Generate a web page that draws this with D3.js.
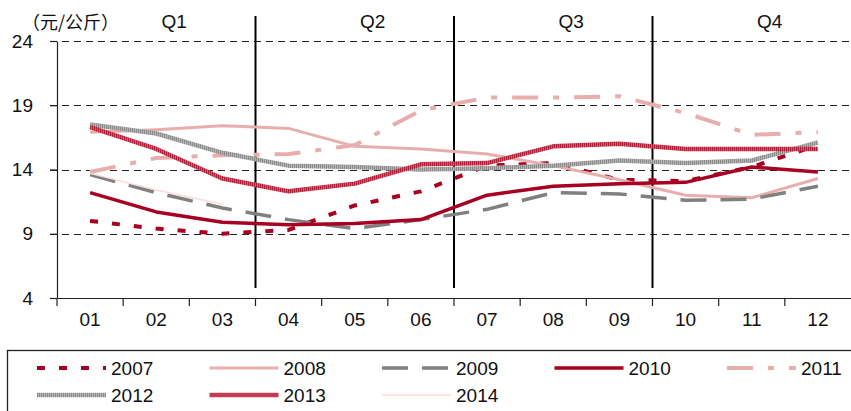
<!DOCTYPE html>
<html lang="zh">
<head>
<meta charset="UTF-8">
<title>价格月度走势</title>
<script src="https://cdn.jsdelivr.net/npm/d3@7"></script>
<style>
    body { margin: 0; background: #fff; }
    svg text { font-family: "Liberation Sans", "DejaVu Sans", sans-serif; fill: #111; }
    .grid line { stroke: #222; stroke-width: 1; stroke-dasharray: 7,5; shape-rendering: crispEdges; }
    .axis path, .axis line { stroke: #222; stroke-width: 1.2; }
    .series { fill: none; stroke-linejoin: round; }
</style>
</head>
<body>
<div id="chart"></div>
<script>
    // 数据
    var months = ["01", "02", "03", "04", "05", "06", "07", "08", "09", "10", "11", "12"];
    var quarters = ["Q1", "Q2", "Q3", "Q4"];
    var yTicks = [4, 9, 14, 19, 24];

    var v2007 = [10.0, 9.4, 9.0, 9.3, 11.2, 12.3, 14.3, 14.5, 13.2, 13.1, 14.2, 15.9];
    var v2008 = [16.9, 17.1, 17.4, 17.2, 15.8, 15.6, 15.2, 14.3, 13.2, 12.0, 11.8, 13.3];
    var v2009 = [13.6, 12.2, 11.0, 10.1, 9.4, 10.1, 10.9, 12.2, 12.1, 11.6, 11.7, 12.7];
    var v2010 = [12.2, 10.7, 9.9, 9.7, 9.8, 10.1, 12.0, 12.7, 12.9, 13.0, 14.2, 13.8];
    var v2011 = [13.8, 14.9, 15.1, 15.2, 15.9, 18.6, 19.6, 19.6, 19.7, 18.4, 16.7, 16.9];
    var v2012 = [17.5, 16.8, 15.3, 14.3, 14.2, 14.0, 14.1, 14.3, 14.7, 14.5, 14.7, 16.1];
    var v2013 = [17.3, 15.6, 13.3, 12.3, 12.9, 14.4, 14.5, 15.8, 16.0, 15.6, 15.6, 15.6];
    var v2014 = [13.7, 12.4, 11.3];

    var series = [
        {name: "2007", values: v2007, color: "#A80020", width: 4, dash: "8,14"},
        {name: "2008", values: v2008, color: "#E8ADAD", width: 3, dash: null},
        {name: "2009", values: v2009, color: "#808080", width: 3.5, dash: "26,14"},
        {name: "2010", values: v2010, color: "#A80020", width: 3.5, dash: null},
        {name: "2011", values: v2011, color: "#E8ADAD", width: 4, dash: "26,15,6,15"},
        {name: "2012", values: v2012, color: "url(#stripeGray)", width: 4.5, dash: null},
        {name: "2013", values: v2013, color: "url(#stripeRed)", width: 4.5, dash: null},
        {name: "2014", values: v2014, color: "#F9DCDC", width: 1.5, dash: null}
    ];

    var width = 851, height = 411;
    var x = d3.scaleBand().domain(months).range([57, 851]);
    var y = d3.scaleLinear().domain([4, 24]).range([298, 41]);

    var svg = d3.select("#chart").append("svg")
        .attr("width", width)
        .attr("height", height);

    // 条纹纹理
    var defs = svg.append("defs");
    function stripe(id, c1, c2) {
        var p = defs.append("pattern")
            .attr("id", id)
            .attr("patternUnits", "userSpaceOnUse")
            .attr("width", 2).attr("height", 2);
        p.append("rect").attr("width", 2).attr("height", 2).attr("fill", c1);
        p.append("rect").attr("width", 1).attr("height", 2).attr("fill", c2);
    }
    stripe("stripeGray", "#B4B4B4", "#8C8C8C");
    stripe("stripeRed", "#D65A6E", "#B01E38");

    // 网格
    svg.append("g").attr("class", "grid")
        .selectAll("line")
        .data(yTicks.filter(function (d) { return d > 4; }))
        .enter().append("line")
        .attr("x1", 50).attr("x2", 851)
        .attr("y1", function (d) { return Math.round(y(d)) + 0.5; })
        .attr("y2", function (d) { return Math.round(y(d)) + 0.5; });

    // y 轴
    var yAxis = svg.append("g").attr("class", "axis")
        .attr("transform", "translate(57,0)")
        .call(d3.axisLeft(y).tickValues(yTicks).tickSize(7).tickSizeOuter(0).tickPadding(17));
    yAxis.selectAll("text").style("font-size", "19px");

    // x 轴
    var xAxis = svg.append("g").attr("class", "axis")
        .attr("transform", "translate(0,298)")
        .call(d3.axisBottom(x).tickSize(0).tickSizeOuter(0).tickPadding(15));
    xAxis.selectAll("text").style("font-size", "19px");
    xAxis.selectAll(".edge")
        .data(months)
        .enter().append("line")
        .attr("class", "edge")
        .attr("x1", function (d) { return x(d); })
        .attr("x2", function (d) { return x(d); })
        .attr("y1", 0).attr("y2", 8);

    // 季度分隔
    svg.append("g").selectAll("line")
        .data(["04", "07", "10"])
        .enter().append("line")
        .attr("x1", function (d) { return x(d); })
        .attr("x2", function (d) { return x(d); })
        .attr("y1", 16).attr("y2", 288)
        .attr("stroke", "#000").attr("stroke-width", 2);

    svg.append("g").selectAll("text")
        .data(quarters)
        .enter().append("text")
        .attr("x", function (d, i) { return x(months[i * 3]) + x.bandwidth() * 1.5 + 18; })
        .attr("y", 28)
        .attr("text-anchor", "middle")
        .style("font-size", "19px")
        .text(function (d) { return d; });

    svg.append("text")
        .attr("x", 22).attr("y", 29)
        .style("font-family", "'Noto Sans CJK SC', sans-serif")
        .style("font-size", "18px")
        .text("（元/公斤）");

    // 折线
    var line = d3.line()
        .x(function (d, i) { return x(months[i]) + x.bandwidth() / 2; })
        .y(function (d) { return y(d); });

    svg.append("g").selectAll("path")
        .data(series)
        .enter().append("path")
        .attr("class", "series")
        .attr("d", function (d) { return line(d.values); })
        .attr("stroke", function (d) { return d.color; })
        .attr("stroke-width", function (d) { return d.width; })
        .attr("stroke-dasharray", function (d) { return d.dash; });

    // 图例
    svg.append("rect")
        .attr("x", 7.5).attr("y", 350.5)
        .attr("width", 860).attr("height", 80)
        .attr("fill", "none").attr("stroke", "#222").attr("stroke-width", 1.3);

    var legend = svg.append("g").selectAll("g")
        .data(series)
        .enter().append("g")
        .attr("transform", function (d, i) {
            return "translate(" + (37 + (i % 5) * 172.5) + "," + (i < 5 ? 368 : 395) + ")";
        });
    legend.append("line")
        .attr("x1", 0).attr("x2", 69)
        .attr("stroke", function (d) { return d.color; })
        .attr("stroke-width", function (d) { return d.width; })
        .attr("stroke-dasharray", function (d) { return d.dash; });
    legend.append("text")
        .attr("x", 74).attr("dy", "0.36em")
        .style("font-size", "19px")
        .text(function (d) { return d.name; });
</script>
</body>
</html>
